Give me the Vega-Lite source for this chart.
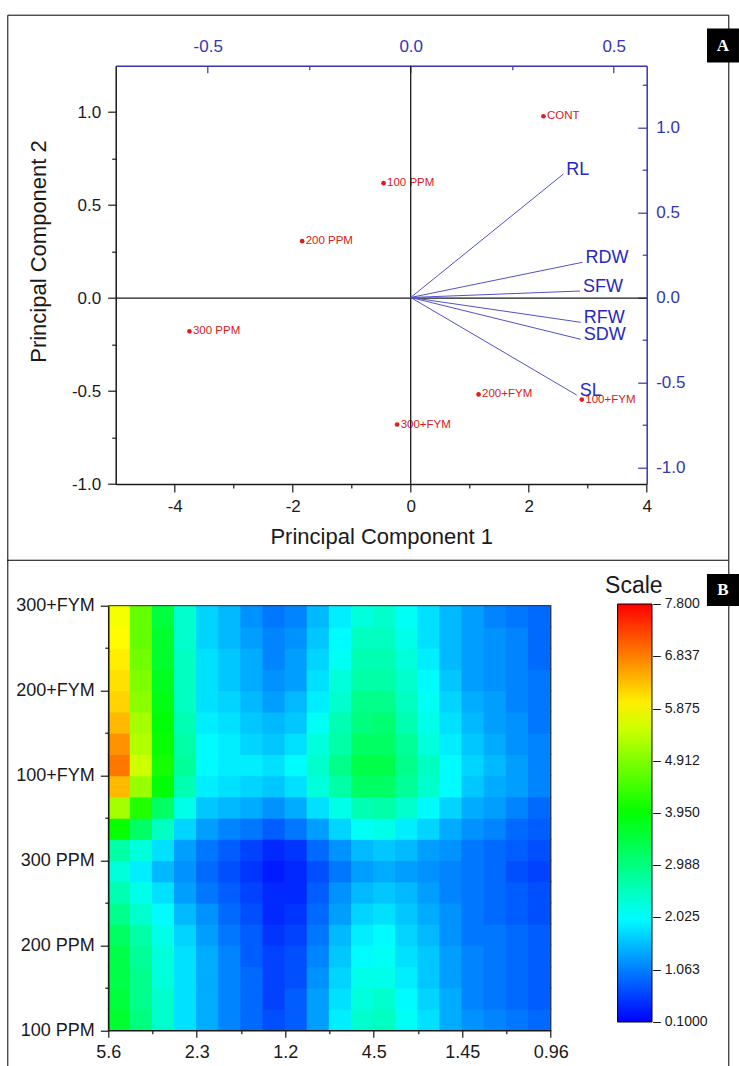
{
"$schema": "https://vega.github.io/schema/vega-lite/v6.json",
"width": 721, "height": 1051.3,
"autosize": {"type": "none"},
"padding": {"left": 7.3, "top": 14.7, "right": 10.7, "bottom": 0},
"background": "white",
"config": {
 "view": {"stroke": "#000", "strokeWidth": 1},
 "axis": {"grid": false, "labelFlush": false, "labelOverlap": false, "labelFont": "Liberation Sans", "titleFont": "Liberation Sans", "titleFontWeight": "normal", "domainWidth": 1.5, "tickWidth": 1.2, "labelColor": "#1a1a1a", "titleColor": "#1a1a1a", "domainColor": "#1a1a1a", "tickColor": "#1a1a1a"},
 "legend": {"labelFont": "Liberation Sans", "titleFont": "Liberation Sans"},
 "text": {"font": "Liberation Sans"}
},
"resolve": {"scale": {"x": "independent", "y": "independent"}, "axis": {"x": "independent", "y": "independent"}},
"layer": [
 {
  "data": {"values": [
   {"name": "CONT", "pc1": 2.25, "pc2": 0.978},
   {"name": "100 PPM", "pc1": -0.46, "pc2": 0.618},
   {"name": "200 PPM", "pc1": -1.84, "pc2": 0.306},
   {"name": "300 PPM", "pc1": -3.75, "pc2": -0.179},
   {"name": "200+FYM", "pc1": 1.15, "pc2": -0.518},
   {"name": "100+FYM", "pc1": 2.9, "pc2": -0.546},
   {"name": "300+FYM", "pc1": -0.23, "pc2": -0.68}
  ]},
  "layer": [
   {"mark": {"type": "point", "filled": true, "size": 22, "color": "#dd1e1e", "opacity": 1},
    "encoding": {
     "x": {"field": "pc1", "type": "quantitative", "scale": {"domain": [-5, 4], "range": [108.4, 639.4], "nice": false, "zero": false},
      "axis": {"orient": "bottom", "offset": -582, "values": [-4, -3, -2, -1, 0, 1, 2, 3, 4],
       "labelExpr": "abs(datum.value % 2) < 0.01 ? replace(format(datum.value, 'd'), '\u2212', '-') : ''",
       "tickSize": {"condition": {"test": "abs(datum.value % 2) < 0.01", "value": 8}, "value": 4},
       "labelPadding": 6, "labelFontSize": 17, "title": "Principal Component 1", "titleFontSize": 22, "titlePadding": 12}},
     "y": {"field": "pc2", "type": "quantitative", "scale": {"domain": [-1, 1.25], "range": [469.3, 51], "nice": false, "zero": false},
      "axis": {"orient": "left", "offset": -108.4, "values": [-1, -0.75, -0.5, -0.25, 0, 0.25, 0.5, 0.75, 1],
       "labelExpr": "abs(datum.value*2 - round(datum.value*2)) < 0.01 ? replace(format(datum.value, '.1f'), '\u2212', '-') : ''",
       "tickSize": {"condition": {"test": "abs(datum.value*2 - round(datum.value*2)) < 0.01", "value": 8}, "value": 4},
       "labelPadding": 7, "labelFontSize": 17, "title": "Principal Component 2", "titleFontSize": 22, "titleX": -65, "titleY": 236.3}}
    }},
   {"mark": {"type": "text", "align": "left", "baseline": "middle", "dx": 3.5, "fontSize": 11.5, "color": "#d42020"},
    "encoding": {"x": {"field": "pc1", "type": "quantitative"}, "y": {"field": "pc2", "type": "quantitative"}, "text": {"field": "name", "type": "nominal"}}},
   {"data": {"values": [{}]}, "mark": {"type": "rule", "color": "#1a1a1a", "strokeWidth": 1.3},
    "encoding": {"x": {"datum": 0, "type": "quantitative"}, "y": {"datum": -1, "type": "quantitative"}, "y2": {"datum": 1.25}}},
   {"data": {"values": [{}]}, "mark": {"type": "rule", "color": "#1a1a1a", "strokeWidth": 1.3},
    "encoding": {"y": {"datum": 0, "type": "quantitative"}, "x": {"datum": -5, "type": "quantitative"}, "x2": {"datum": 4}}},
   {"data": {"values": [{}]}, "mark": {"type": "rule", "color": "#000", "strokeWidth": 1},
    "encoding": {"y": {"datum": -1.4102, "type": "quantitative"}, "x": {"datum": -6.837, "type": "quantitative"}, "x2": {"datum": 5.383}}},
   {"data": {"values": [{}]}, "mark": {"type": "rect", "color": "#000"},
    "encoding": {"x": {"datum": 5.022, "type": "quantitative"}, "x2": {"datum": 5.564}, "y": {"datum": 1.267, "type": "quantitative"}, "y2": {"datum": 1.45}}},
   {"data": {"values": [{}]}, "mark": {"type": "text", "text": "A", "color": "#ffffff", "font": "Liberation Serif", "fontWeight": "bold", "fontSize": 17, "align": "center", "baseline": "middle"},
    "encoding": {"x": {"datum": 5.293, "type": "quantitative"}, "y": {"datum": 1.3585, "type": "quantitative"}}}
  ]
 },
 {
  "data": {"values": [
   {"var": "RL", "l1": 0.376, "l2": 0.726},
   {"var": "RDW", "l1": 0.423, "l2": 0.207},
   {"var": "SFW", "l1": 0.417, "l2": 0.038},
   {"var": "RFW", "l1": 0.419, "l2": -0.146},
   {"var": "SDW", "l1": 0.419, "l2": -0.246},
   {"var": "SL", "l1": 0.409, "l2": -0.574}
  ]},
  "layer": [
   {"mark": {"type": "text", "align": "left", "baseline": "middle", "dx": 3, "dy": -4, "fontSize": 18, "color": "#2828c0"},
    "encoding": {
     "x": {"field": "l1", "type": "quantitative", "scale": {"domain": [-0.7266, 0.5813], "range": [108.4, 639.4], "nice": false, "zero": false},
      "axis": {"orient": "top", "offset": -51, "values": [-0.5, -0.25, 0, 0.25, 0.5],
       "labelExpr": "abs(datum.value*2 - round(datum.value*2)) < 0.01 ? replace(format(datum.value, '.1f'), '\u2212', '-') : ''",
       "tickSize": {"condition": {"test": "abs(datum.value*2 - round(datum.value*2)) < 0.01", "value": -7}, "value": -4},
       "labelPadding": 17, "labelFontSize": 17, "title": null,
       "domainColor": "#3535b5", "tickColor": "#3535b5", "labelColor": "#3535b5"}},
     "y": {"field": "l2", "type": "quantitative", "scale": {"domain": [-1.0971, 1.3635], "range": [469.3, 51], "nice": false, "zero": false},
      "axis": {"orient": "right", "offset": -81.6, "values": [-1, -0.75, -0.5, -0.25, 0, 0.25, 0.5, 0.75, 1, 1.25],
       "labelExpr": "abs(datum.value*2 - round(datum.value*2)) < 0.01 ? replace(format(datum.value, '.1f'), '\u2212', '-') : ''",
       "tickSize": {"condition": {"test": "abs(datum.value*2 - round(datum.value*2)) < 0.01", "value": -9}, "value": -4.5},
       "labelPadding": 18, "labelFontSize": 17, "title": null,
       "domainColor": "#3535b5", "tickColor": "#3535b5", "labelColor": "#3535b5"}},
     "text": {"field": "var", "type": "nominal"}
    }},
   {"mark": {"type": "rule", "color": "#5252c4", "strokeWidth": 1},
    "encoding": {"x": {"field": "l1", "type": "quantitative"}, "y": {"field": "l2", "type": "quantitative"}, "x2": {"datum": 0}, "y2": {"datum": 0}}}
  ]
 },
 {
  "data": {"values": [
{"i":0,"j":0,"v":3.6},{"i":1,"j":0,"v":3.0},{"i":2,"j":0,"v":2.4},{"i":3,"j":0,"v":1.8},{"i":4,"j":0,"v":1.4},{"i":5,"j":0,"v":1.1},{"i":6,"j":0,"v":0.9},{"i":7,"j":0,"v":0.7},{"i":8,"j":0,"v":0.8},{"i":9,"j":0,"v":1.3},{"i":10,"j":0,"v":1.9},{"i":11,"j":0,"v":2.4},{"i":12,"j":0,"v":2.5},{"i":13,"j":0,"v":2.1},{"i":14,"j":0,"v":1.8},{"i":15,"j":0,"v":1.4},{"i":16,"j":0,"v":1.2},{"i":17,"j":0,"v":1.1},{"i":18,"j":0,"v":1.0},{"i":19,"j":0,"v":0.9},
{"i":0,"j":1,"v":3.5},{"i":1,"j":1,"v":2.9},{"i":2,"j":1,"v":2.4},{"i":3,"j":1,"v":1.8},{"i":4,"j":1,"v":1.4},{"i":5,"j":1,"v":1.1},{"i":6,"j":1,"v":0.9},{"i":7,"j":1,"v":0.6},{"i":8,"j":1,"v":0.8},{"i":9,"j":1,"v":1.3},{"i":10,"j":1,"v":1.8},{"i":11,"j":1,"v":2.3},{"i":12,"j":1,"v":2.4},{"i":13,"j":1,"v":2.0},{"i":14,"j":1,"v":1.7},{"i":15,"j":1,"v":1.4},{"i":16,"j":1,"v":1.1},{"i":17,"j":1,"v":1.0},{"i":18,"j":1,"v":0.9},{"i":19,"j":1,"v":0.8},
{"i":0,"j":2,"v":3.4},{"i":1,"j":2,"v":2.9},{"i":2,"j":2,"v":2.3},{"i":3,"j":2,"v":1.8},{"i":4,"j":2,"v":1.4},{"i":5,"j":2,"v":1.1},{"i":6,"j":2,"v":0.9},{"i":7,"j":2,"v":0.6},{"i":8,"j":2,"v":0.7},{"i":9,"j":2,"v":1.2},{"i":10,"j":2,"v":1.7},{"i":11,"j":2,"v":2.2},{"i":12,"j":2,"v":2.2},{"i":13,"j":2,"v":1.9},{"i":14,"j":2,"v":1.6},{"i":15,"j":2,"v":1.3},{"i":16,"j":2,"v":1.1},{"i":17,"j":2,"v":1.0},{"i":18,"j":2,"v":0.9},{"i":19,"j":2,"v":0.8},
{"i":0,"j":3,"v":3.4},{"i":1,"j":3,"v":2.8},{"i":2,"j":3,"v":2.3},{"i":3,"j":3,"v":1.8},{"i":4,"j":3,"v":1.4},{"i":5,"j":3,"v":1.1},{"i":6,"j":3,"v":0.8},{"i":7,"j":3,"v":0.6},{"i":8,"j":3,"v":0.7},{"i":9,"j":3,"v":1.1},{"i":10,"j":3,"v":1.6},{"i":11,"j":3,"v":2.0},{"i":12,"j":3,"v":2.1},{"i":13,"j":3,"v":1.8},{"i":14,"j":3,"v":1.6},{"i":15,"j":3,"v":1.3},{"i":16,"j":3,"v":1.1},{"i":17,"j":3,"v":1.0},{"i":18,"j":3,"v":0.9},{"i":19,"j":3,"v":0.8},
{"i":0,"j":4,"v":3.2},{"i":1,"j":4,"v":2.7},{"i":2,"j":4,"v":2.2},{"i":3,"j":4,"v":1.7},{"i":4,"j":4,"v":1.3},{"i":5,"j":4,"v":1.0},{"i":6,"j":4,"v":0.8},{"i":7,"j":4,"v":0.5},{"i":8,"j":4,"v":0.6},{"i":9,"j":4,"v":1.0},{"i":10,"j":4,"v":1.5},{"i":11,"j":4,"v":1.9},{"i":12,"j":4,"v":2.0},{"i":13,"j":4,"v":1.7},{"i":14,"j":4,"v":1.5},{"i":15,"j":4,"v":1.2},{"i":16,"j":4,"v":1.0},{"i":17,"j":4,"v":1.0},{"i":18,"j":4,"v":0.9},{"i":19,"j":4,"v":0.8},
{"i":0,"j":5,"v":2.9},{"i":1,"j":5,"v":2.4},{"i":2,"j":5,"v":2.0},{"i":3,"j":5,"v":1.5},{"i":4,"j":5,"v":1.2},{"i":5,"j":5,"v":0.9},{"i":6,"j":5,"v":0.7},{"i":7,"j":5,"v":0.4},{"i":8,"j":5,"v":0.5},{"i":9,"j":5,"v":0.9},{"i":10,"j":5,"v":1.3},{"i":11,"j":5,"v":1.7},{"i":12,"j":5,"v":1.8},{"i":13,"j":5,"v":1.6},{"i":14,"j":5,"v":1.4},{"i":15,"j":5,"v":1.2},{"i":16,"j":5,"v":1.0},{"i":17,"j":5,"v":0.9},{"i":18,"j":5,"v":0.8},{"i":19,"j":5,"v":0.7},
{"i":0,"j":6,"v":2.6},{"i":1,"j":6,"v":2.2},{"i":2,"j":6,"v":1.8},{"i":3,"j":6,"v":1.3},{"i":4,"j":6,"v":1.0},{"i":5,"j":6,"v":0.8},{"i":6,"j":6,"v":0.6},{"i":7,"j":6,"v":0.4},{"i":8,"j":6,"v":0.4},{"i":9,"j":6,"v":0.8},{"i":10,"j":6,"v":1.2},{"i":11,"j":6,"v":1.5},{"i":12,"j":6,"v":1.6},{"i":13,"j":6,"v":1.5},{"i":14,"j":6,"v":1.3},{"i":15,"j":6,"v":1.1},{"i":16,"j":6,"v":1.0},{"i":17,"j":6,"v":0.9},{"i":18,"j":6,"v":0.8},{"i":19,"j":6,"v":0.7},
{"i":0,"j":7,"v":2.3},{"i":1,"j":7,"v":1.9},{"i":2,"j":7,"v":1.5},{"i":3,"j":7,"v":1.2},{"i":4,"j":7,"v":0.9},{"i":5,"j":7,"v":0.7},{"i":6,"j":7,"v":0.5},{"i":7,"j":7,"v":0.3},{"i":8,"j":7,"v":0.4},{"i":9,"j":7,"v":0.7},{"i":10,"j":7,"v":1.0},{"i":11,"j":7,"v":1.3},{"i":12,"j":7,"v":1.4},{"i":13,"j":7,"v":1.3},{"i":14,"j":7,"v":1.2},{"i":15,"j":7,"v":1.1},{"i":16,"j":7,"v":1.0},{"i":17,"j":7,"v":0.9},{"i":18,"j":7,"v":0.7},{"i":19,"j":7,"v":0.6},
{"i":0,"j":8,"v":2.7},{"i":1,"j":8,"v":2.3},{"i":2,"j":8,"v":1.8},{"i":3,"j":8,"v":1.3},{"i":4,"j":8,"v":1.0},{"i":5,"j":8,"v":0.8},{"i":6,"j":8,"v":0.6},{"i":7,"j":8,"v":0.4},{"i":8,"j":8,"v":0.5},{"i":9,"j":8,"v":0.9},{"i":10,"j":8,"v":1.2},{"i":11,"j":8,"v":1.5},{"i":12,"j":8,"v":1.6},{"i":13,"j":8,"v":1.5},{"i":14,"j":8,"v":1.3},{"i":15,"j":8,"v":1.2},{"i":16,"j":8,"v":1.0},{"i":17,"j":8,"v":0.9},{"i":18,"j":8,"v":0.8},{"i":19,"j":8,"v":0.7},
{"i":0,"j":9,"v":4.0},{"i":1,"j":9,"v":3.2},{"i":2,"j":9,"v":2.5},{"i":3,"j":9,"v":1.7},{"i":4,"j":9,"v":1.3},{"i":5,"j":9,"v":1.1},{"i":6,"j":9,"v":1.0},{"i":7,"j":9,"v":0.8},{"i":8,"j":9,"v":1.0},{"i":9,"j":9,"v":1.3},{"i":10,"j":9,"v":1.7},{"i":11,"j":9,"v":2.1},{"i":12,"j":9,"v":2.2},{"i":13,"j":9,"v":1.9},{"i":14,"j":9,"v":1.7},{"i":15,"j":9,"v":1.4},{"i":16,"j":9,"v":1.2},{"i":17,"j":9,"v":1.1},{"i":18,"j":9,"v":0.9},{"i":19,"j":9,"v":0.8},
{"i":0,"j":10,"v":5.2},{"i":1,"j":10,"v":4.2},{"i":2,"j":10,"v":3.2},{"i":3,"j":10,"v":2.2},{"i":4,"j":10,"v":1.6},{"i":5,"j":10,"v":1.5},{"i":6,"j":10,"v":1.4},{"i":7,"j":10,"v":1.2},{"i":8,"j":10,"v":1.4},{"i":9,"j":10,"v":1.8},{"i":10,"j":10,"v":2.2},{"i":11,"j":10,"v":2.6},{"i":12,"j":10,"v":2.7},{"i":13,"j":10,"v":2.4},{"i":14,"j":10,"v":2.0},{"i":15,"j":10,"v":1.7},{"i":16,"j":10,"v":1.4},{"i":17,"j":10,"v":1.3},{"i":18,"j":10,"v":1.1},{"i":19,"j":10,"v":0.9},
{"i":0,"j":11,"v":6.4},{"i":1,"j":11,"v":5.1},{"i":2,"j":11,"v":3.9},{"i":3,"j":11,"v":2.6},{"i":4,"j":11,"v":1.9},{"i":5,"j":11,"v":1.8},{"i":6,"j":11,"v":1.7},{"i":7,"j":11,"v":1.6},{"i":8,"j":11,"v":1.8},{"i":9,"j":11,"v":2.3},{"i":10,"j":11,"v":2.7},{"i":11,"j":11,"v":3.2},{"i":12,"j":11,"v":3.2},{"i":13,"j":11,"v":2.8},{"i":14,"j":11,"v":2.4},{"i":15,"j":11,"v":2.0},{"i":16,"j":11,"v":1.6},{"i":17,"j":11,"v":1.4},{"i":18,"j":11,"v":1.3},{"i":19,"j":11,"v":1.1},
{"i":0,"j":12,"v":6.9},{"i":1,"j":12,"v":5.5},{"i":2,"j":12,"v":4.1},{"i":3,"j":12,"v":2.8},{"i":4,"j":12,"v":2.0},{"i":5,"j":12,"v":1.9},{"i":6,"j":12,"v":1.9},{"i":7,"j":12,"v":1.8},{"i":8,"j":12,"v":2.0},{"i":9,"j":12,"v":2.4},{"i":10,"j":12,"v":2.9},{"i":11,"j":12,"v":3.4},{"i":12,"j":12,"v":3.4},{"i":13,"j":12,"v":2.9},{"i":14,"j":12,"v":2.5},{"i":15,"j":12,"v":2.0},{"i":16,"j":12,"v":1.7},{"i":17,"j":12,"v":1.5},{"i":18,"j":12,"v":1.3},{"i":19,"j":12,"v":1.1},
{"i":0,"j":13,"v":6.7},{"i":1,"j":13,"v":5.3},{"i":2,"j":13,"v":4.0},{"i":3,"j":13,"v":2.7},{"i":4,"j":13,"v":2.0},{"i":5,"j":13,"v":1.9},{"i":6,"j":13,"v":1.7},{"i":7,"j":13,"v":1.6},{"i":8,"j":13,"v":1.8},{"i":9,"j":13,"v":2.3},{"i":10,"j":13,"v":2.7},{"i":11,"j":13,"v":3.2},{"i":12,"j":13,"v":3.2},{"i":13,"j":13,"v":2.8},{"i":14,"j":13,"v":2.3},{"i":15,"j":13,"v":1.9},{"i":16,"j":13,"v":1.6},{"i":17,"j":13,"v":1.4},{"i":18,"j":13,"v":1.2},{"i":19,"j":13,"v":1.1},
{"i":0,"j":14,"v":6.4},{"i":1,"j":14,"v":5.2},{"i":2,"j":14,"v":3.9},{"i":3,"j":14,"v":2.6},{"i":4,"j":14,"v":1.9},{"i":5,"j":14,"v":1.8},{"i":6,"j":14,"v":1.6},{"i":7,"j":14,"v":1.5},{"i":8,"j":14,"v":1.6},{"i":9,"j":14,"v":2.1},{"i":10,"j":14,"v":2.6},{"i":11,"j":14,"v":3.0},{"i":12,"j":14,"v":3.1},{"i":13,"j":14,"v":2.6},{"i":14,"j":14,"v":2.2},{"i":15,"j":14,"v":1.8},{"i":16,"j":14,"v":1.5},{"i":17,"j":14,"v":1.3},{"i":18,"j":14,"v":1.2},{"i":19,"j":14,"v":1.0},
{"i":0,"j":15,"v":6.2},{"i":1,"j":15,"v":5.0},{"i":2,"j":15,"v":3.8},{"i":3,"j":15,"v":2.5},{"i":4,"j":15,"v":1.8},{"i":5,"j":15,"v":1.7},{"i":6,"j":15,"v":1.5},{"i":7,"j":15,"v":1.3},{"i":8,"j":15,"v":1.5},{"i":9,"j":15,"v":1.9},{"i":10,"j":15,"v":2.4},{"i":11,"j":15,"v":2.9},{"i":12,"j":15,"v":2.9},{"i":13,"j":15,"v":2.5},{"i":14,"j":15,"v":2.1},{"i":15,"j":15,"v":1.7},{"i":16,"j":15,"v":1.4},{"i":17,"j":15,"v":1.3},{"i":18,"j":15,"v":1.1},{"i":19,"j":15,"v":1.0},
{"i":0,"j":16,"v":6.1},{"i":1,"j":16,"v":4.9},{"i":2,"j":16,"v":3.7},{"i":3,"j":16,"v":2.5},{"i":4,"j":16,"v":1.8},{"i":5,"j":16,"v":1.6},{"i":6,"j":16,"v":1.4},{"i":7,"j":16,"v":1.2},{"i":8,"j":16,"v":1.3},{"i":9,"j":16,"v":1.8},{"i":10,"j":16,"v":2.3},{"i":11,"j":16,"v":2.7},{"i":12,"j":16,"v":2.7},{"i":13,"j":16,"v":2.4},{"i":14,"j":16,"v":2.0},{"i":15,"j":16,"v":1.6},{"i":16,"j":16,"v":1.3},{"i":17,"j":16,"v":1.2},{"i":18,"j":16,"v":1.1},{"i":19,"j":16,"v":1.0},
{"i":0,"j":17,"v":6.0},{"i":1,"j":17,"v":4.8},{"i":2,"j":17,"v":3.6},{"i":3,"j":17,"v":2.5},{"i":4,"j":17,"v":1.8},{"i":5,"j":17,"v":1.6},{"i":6,"j":17,"v":1.4},{"i":7,"j":17,"v":1.1},{"i":8,"j":17,"v":1.3},{"i":9,"j":17,"v":1.7},{"i":10,"j":17,"v":2.1},{"i":11,"j":17,"v":2.6},{"i":12,"j":17,"v":2.6},{"i":13,"j":17,"v":2.3},{"i":14,"j":17,"v":1.9},{"i":15,"j":17,"v":1.5},{"i":16,"j":17,"v":1.3},{"i":17,"j":17,"v":1.2},{"i":18,"j":17,"v":1.1},{"i":19,"j":17,"v":0.9},
{"i":0,"j":18,"v":5.9},{"i":1,"j":18,"v":4.7},{"i":2,"j":18,"v":3.6},{"i":3,"j":18,"v":2.4},{"i":4,"j":18,"v":1.7},{"i":5,"j":18,"v":1.5},{"i":6,"j":18,"v":1.3},{"i":7,"j":18,"v":1.1},{"i":8,"j":18,"v":1.2},{"i":9,"j":18,"v":1.6},{"i":10,"j":18,"v":2.0},{"i":11,"j":18,"v":2.5},{"i":12,"j":18,"v":2.5},{"i":13,"j":18,"v":2.2},{"i":14,"j":18,"v":1.8},{"i":15,"j":18,"v":1.5},{"i":16,"j":18,"v":1.3},{"i":17,"j":18,"v":1.2},{"i":18,"j":18,"v":1.1},{"i":19,"j":18,"v":0.9},
{"i":0,"j":19,"v":5.8},{"i":1,"j":19,"v":4.7},{"i":2,"j":19,"v":3.5},{"i":3,"j":19,"v":2.4},{"i":4,"j":19,"v":1.7},{"i":5,"j":19,"v":1.5},{"i":6,"j":19,"v":1.2},{"i":7,"j":19,"v":1.0},{"i":8,"j":19,"v":1.1},{"i":9,"j":19,"v":1.5},{"i":10,"j":19,"v":1.9},{"i":11,"j":19,"v":2.3},{"i":12,"j":19,"v":2.4},{"i":13,"j":19,"v":2.1},{"i":14,"j":19,"v":1.8},{"i":15,"j":19,"v":1.5},{"i":16,"j":19,"v":1.3},{"i":17,"j":19,"v":1.1},{"i":18,"j":19,"v":1.0},{"i":19,"j":19,"v":0.9}
  ]},
  "mark": {"type": "rect", "width": {"band": 1.06}, "height": {"band": 1.06}},
  "encoding": {
   "x": {"field": "i", "type": "ordinal", "scale": {"range": [101, 543.4], "paddingInner": 0, "paddingOuter": 0}, "axis": null},
   "y": {"field": "j", "type": "ordinal", "scale": {"range": [1015.6, 591], "paddingInner": 0, "paddingOuter": 0}, "axis": null},
   "fill": {"field": "v", "type": "quantitative",
    "scale": {"domain": [0.0999, 2.025, 3.95, 5.875, 7.8001], "range": ["#0000ff", "#00ffff", "#00ff00", "#ffff00", "#ff0000"], "interpolate": "rgb"},
    "legend": {"type": "gradient", "orient": "none", "legendX": 597.3, "legendY": 560.3, "direction": "vertical", "gradientLength": 418, "gradientThickness": 34.4,
     "title": "Scale", "titleFontSize": 23, "titleFontWeight": "normal", "titleColor": "#1a1a1a", "titleAnchor": "middle", "titleAlign": "right", "titlePadding": 6,
     "values": [0.1, 1.063, 2.025, 2.988, 3.95, 4.912, 5.875, 6.837, 7.8], "format": ".4r", "labelExpr": "'\u2013 ' + datum.label",
     "labelFontSize": 14, "labelOffset": 1, "labelColor": "#1a1a1a", "labelOverlap": false,
     "gradientStrokeColor": "#000", "gradientStrokeWidth": 1, "padding": 0}}
  }
 },
 {
  "data": {"values": [{}]},
  "layer": [
   {"mark": {"type": "rule", "color": "#333", "strokeWidth": 1},
    "encoding": {
     "x": {"datum": 0, "type": "quantitative", "scale": {"domain": [0, 5], "range": [101, 543.4], "nice": false, "zero": false},
      "axis": {"orient": "bottom", "offset": -35.7, "values": [0, 0.5, 1, 1.5, 2, 2.5, 3, 3.5, 4, 4.5, 5],
       "labelExpr": "datum.value % 1 == 0 ? ['5.6','2.3','1.2','4.5','1.45','0.96'][datum.value] : ''",
       "tickSize": {"condition": {"test": "datum.value % 1 == 0", "value": 7}, "value": 3.5},
       "labelPadding": 6, "labelFontSize": 18, "title": null, "zindex": 1}},
     "x2": {"datum": 5},
     "y": {"datum": 5, "type": "quantitative", "scale": {"domain": [0, 5], "range": [1015.6, 591], "nice": false, "zero": false},
      "axis": {"orient": "left", "offset": -101, "values": [0, 0.5, 1, 1.5, 2, 2.5, 3, 3.5, 4, 4.5, 5],
       "labelExpr": "datum.value % 1 == 0 ? ['100 PPM','200 PPM','300 PPM','100+FYM','200+FYM','300+FYM'][datum.value] : ''",
       "tickSize": {"condition": {"test": "datum.value % 1 == 0", "value": 8}, "value": 3.5},
       "labelPadding": 6, "labelFontSize": 18, "title": null, "zindex": 1}}
    }},
   {"mark": {"type": "rule", "color": "#333", "strokeWidth": 1},
    "encoding": {"x": {"datum": 5, "type": "quantitative"}, "y": {"datum": 0, "type": "quantitative"}, "y2": {"datum": 5}}},
   {"mark": {"type": "rect", "color": "#000"},
    "encoding": {"x": {"datum": 6.766, "type": "quantitative"}, "x2": {"datum": 7.128}, "y": {"datum": 4.997, "type": "quantitative"}, "y2": {"datum": 5.373}}},
   {"mark": {"type": "text", "text": "B", "color": "#ffffff", "font": "Liberation Serif", "fontWeight": "bold", "fontSize": 17, "align": "center", "baseline": "middle"},
    "encoding": {"x": {"datum": 6.947, "type": "quantitative"}, "y": {"datum": 5.185, "type": "quantitative"}}}
  ]
 }
]
}
